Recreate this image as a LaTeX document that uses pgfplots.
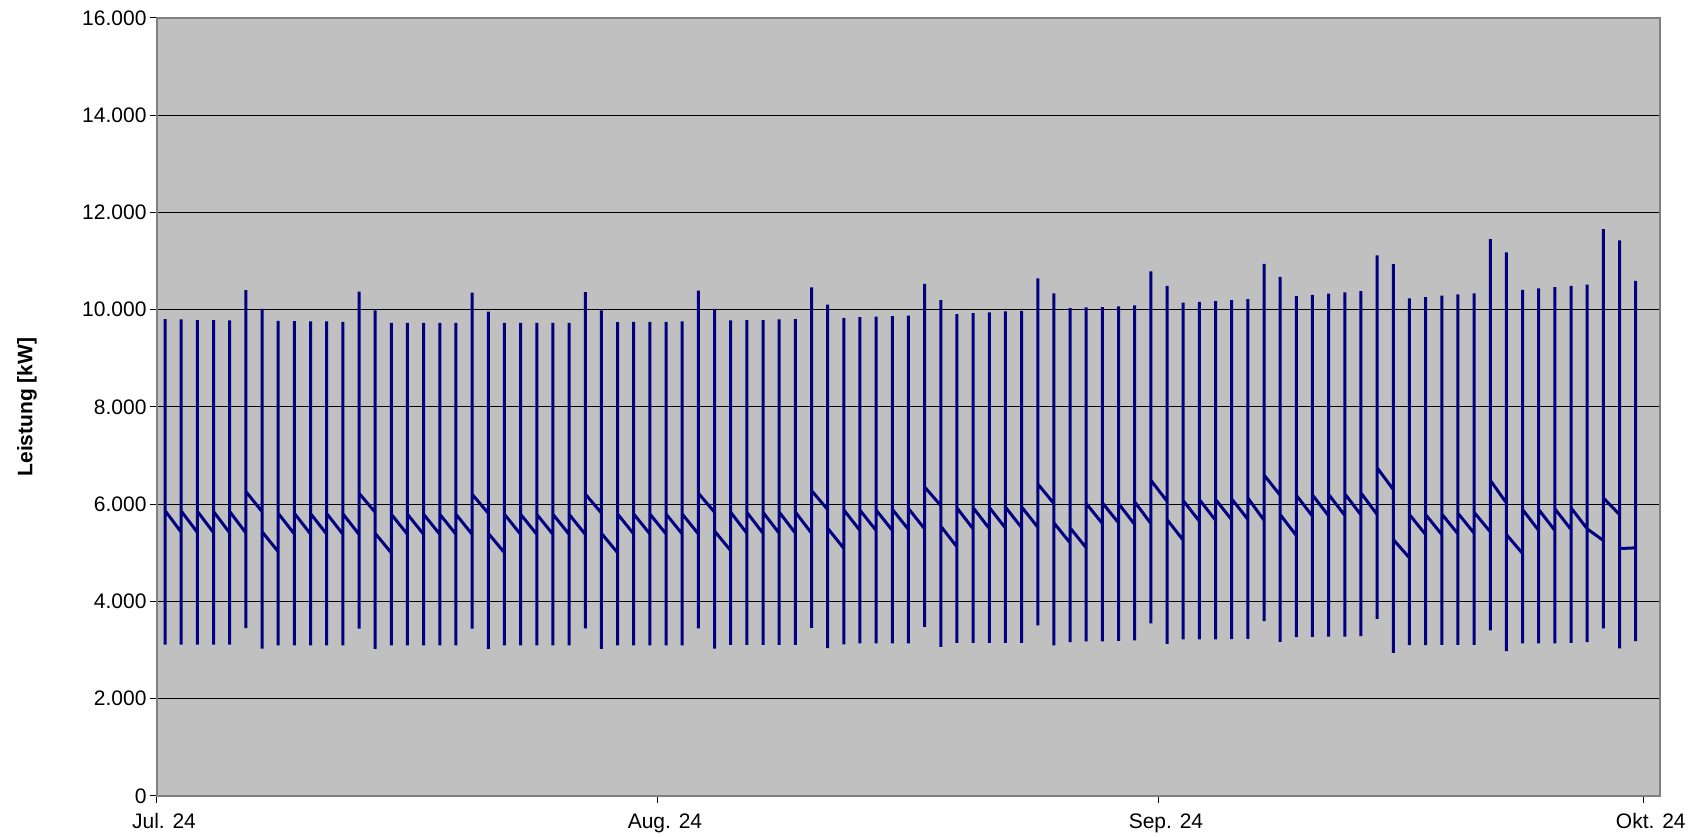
\documentclass[border=0pt]{standalone}
\usepackage{pgfplots}
\pgfplotsset{compat=1.18}
\usepackage{fontspec}
\setmainfont{Liberation Sans}
\definecolor{plotbg}{HTML}{C0C0C0}
\definecolor{navyline}{HTML}{000080}
\definecolor{frame}{HTML}{808080}
\begin{document}
\begin{tikzpicture}
\path[use as bounding box] (-157pt,-41pt) rectangle (1538pt,796pt);
\begin{axis}[
    scale only axis,
    width=1503pt, height=778pt,
    at={(0pt,0pt)}, anchor=south west,
    xmin=0, xmax=93, ymin=0, ymax=16000,
    xtick={0,31,62,92},
    xticklabels={Jul. 24,Aug. 24,Sep. 24,Okt. 24},
    ytick={0,2000,...,16000},
    yticklabels={0,2.000,4.000,6.000,8.000,10.000,12.000,14.000,16.000},
    ymajorgrids,
    grid style={black, line width=1pt},
    axis background/.style={fill=plotbg},
    axis line style={draw=frame, line width=1.5pt},
    tick style={black, line width=1pt},
    tick align=outside,
    major tick length=7pt,
    tick pos=left,
    tick label style={font=\fontsize{21}{25}\selectfont},
    xticklabel style={xshift=7pt, yshift=-7pt},
    ylabel={Leistung [kW]},
    ylabel style={at={(axis description cs:-0.0865,0.5)}, anchor=center,
        font=\fontsize{21}{25}\selectfont\bfseries},
]
% daily load profile: each day = (x, end of previous night) (x, low) (x, peak) (x, start of night)
\addplot[navyline, line width=3pt, mark=none] coordinates {
(0.5,5050) (0.5,3115) (0.5,9808) (0.5,5869)
(1.5,5423) (1.5,3115) (1.5,9800) (1.5,5860)
(2.5,5420) (2.5,3115) (2.5,9786) (2.5,5855)
(3.5,5415) (3.5,3115) (3.5,9786) (3.5,5850)
(4.5,5410) (4.5,3115) (4.5,9780) (4.5,5850)
(5.5,5410) (5.5,3450) (5.5,10405) (5.5,6261)
(6.5,5849) (6.5,3030) (6.5,10020) (6.5,5436)
(7.5,5024) (7.5,3100) (7.5,9773) (7.5,5814)
(8.5,5388) (8.5,3100) (8.5,9766) (8.5,5814)
(9.5,5388) (9.5,3100) (9.5,9760) (9.5,5810)
(10.5,5385) (10.5,3100) (10.5,9760) (10.5,5810)
(11.5,5385) (11.5,3100) (11.5,9753) (11.5,5805)
(12.5,5380) (12.5,3440) (12.5,10371) (12.5,6227)
(13.5,5835) (13.5,3025) (13.5,9986) (13.5,5402)
(14.5,5000) (14.5,3100) (14.5,9732) (14.5,5794)
(15.5,5381) (15.5,3100) (15.5,9732) (15.5,5794)
(16.5,5381) (16.5,3100) (16.5,9732) (16.5,5794)
(17.5,5381) (17.5,3100) (17.5,9732) (17.5,5794)
(18.5,5381) (18.5,3100) (18.5,9732) (18.5,5794)
(19.5,5381) (19.5,3440) (19.5,10350) (19.5,6206)
(20.5,5814) (20.5,3025) (20.5,9959) (20.5,5402)
(21.5,5003) (21.5,3100) (21.5,9732) (21.5,5794)
(22.5,5381) (22.5,3100) (22.5,9732) (22.5,5794)
(23.5,5381) (23.5,3100) (23.5,9732) (23.5,5794)
(24.5,5381) (24.5,3100) (24.5,9732) (24.5,5794)
(25.5,5381) (25.5,3100) (25.5,9732) (25.5,5794)
(26.5,5381) (26.5,3445) (26.5,10364) (26.5,6210)
(27.5,5820) (27.5,3025) (27.5,9986) (27.5,5402)
(28.5,5003) (28.5,3100) (28.5,9746) (28.5,5800)
(29.5,5388) (29.5,3100) (29.5,9753) (29.5,5800)
(30.5,5388) (30.5,3100) (30.5,9753) (30.5,5800)
(31.5,5388) (31.5,3100) (31.5,9753) (31.5,5800)
(32.5,5388) (32.5,3100) (32.5,9760) (32.5,5800)
(33.5,5388) (33.5,3445) (33.5,10392) (33.5,6227)
(34.5,5835) (34.5,3030) (34.5,10020) (34.5,5450)
(35.5,5045) (35.5,3110) (35.5,9780) (35.5,5835)
(36.5,5402) (36.5,3110) (36.5,9787) (36.5,5835)
(37.5,5402) (37.5,3110) (37.5,9787) (37.5,5835)
(38.5,5402) (38.5,3110) (38.5,9800) (38.5,5840)
(39.5,5405) (39.5,3110) (39.5,9807) (39.5,5840)
(40.5,5405) (40.5,3455) (40.5,10460) (40.5,6282)
(41.5,5890) (41.5,3040) (41.5,10103) (41.5,5505)
(42.5,5093) (42.5,3120) (42.5,9835) (42.5,5883)
(43.5,5459) (43.5,3137) (43.5,9849) (43.5,5877)
(44.5,5459) (44.5,3137) (44.5,9856) (44.5,5880)
(45.5,5462) (45.5,3137) (45.5,9870) (45.5,5895)
(46.5,5480) (46.5,3137) (46.5,9877) (46.5,5911)
(47.5,5493) (47.5,3480) (47.5,10534) (47.5,6356)
(48.5,5973) (48.5,3069) (48.5,10199) (48.5,5548)
(49.5,5123) (49.5,3151) (49.5,9911) (49.5,5925)
(50.5,5493) (50.5,3151) (50.5,9932) (50.5,5930)
(51.5,5500) (51.5,3151) (51.5,9945) (51.5,5935)
(52.5,5510) (52.5,3151) (52.5,9966) (52.5,5940)
(53.5,5520) (53.5,3151) (53.5,9979) (53.5,5945)
(54.5,5528) (54.5,3507) (54.5,10644) (54.5,6418)
(55.5,6014) (55.5,3096) (55.5,10336) (55.5,5617)
(56.5,5206) (56.5,3164) (56.5,10034) (56.5,5514)
(57.5,5103) (57.5,3178) (57.5,10048) (57.5,6014)
(58.5,5603) (58.5,3178) (58.5,10055) (58.5,6028)
(59.5,5617) (59.5,3190) (59.5,10068) (59.5,6014)
(60.5,5582) (60.5,3199) (60.5,10089) (60.5,6048)
(61.5,5603) (61.5,3548) (61.5,10788) (61.5,6493)
(62.5,6062) (62.5,3130) (62.5,10493) (62.5,5685)
(63.5,5260) (63.5,3220) (63.5,10144) (63.5,6075)
(64.5,5651) (64.5,3220) (64.5,10164) (64.5,6096)
(65.5,5671) (65.5,3220) (65.5,10178) (65.5,6100)
(66.5,5680) (66.5,3225) (66.5,10199) (66.5,6110)
(67.5,5690) (67.5,3233) (67.5,10219) (67.5,6130)
(68.5,5671) (68.5,3596) (68.5,10945) (68.5,6603)
(69.5,6185) (69.5,3171) (69.5,10678) (69.5,5788)
(70.5,5356) (70.5,3267) (70.5,10281) (70.5,6185)
(71.5,5754) (71.5,3270) (71.5,10308) (71.5,6190)
(72.5,5760) (72.5,3275) (72.5,10329) (72.5,6200)
(73.5,5770) (73.5,3280) (73.5,10356) (73.5,6215)
(74.5,5780) (74.5,3288) (74.5,10384) (74.5,6233)
(75.5,5788) (75.5,3644) (75.5,11116) (75.5,6750)
(76.5,6302) (76.5,2945) (76.5,10938) (76.5,5274)
(77.5,4897) (77.5,3103) (77.5,10233) (77.5,5788)
(78.5,5377) (78.5,3105) (78.5,10260) (78.5,5788)
(79.5,5377) (79.5,3108) (79.5,10288) (79.5,5800)
(80.5,5390) (80.5,3110) (80.5,10315) (80.5,5815)
(81.5,5405) (81.5,3110) (81.5,10336) (81.5,5836)
(82.5,5432) (82.5,3404) (82.5,11452) (82.5,6493)
(83.5,6027) (83.5,2980) (83.5,11178) (83.5,5377)
(84.5,4986) (84.5,3137) (84.5,10411) (84.5,5891)
(85.5,5459) (85.5,3137) (85.5,10438) (85.5,5891)
(86.5,5459) (86.5,3140) (86.5,10466) (86.5,5905)
(87.5,5480) (87.5,3150) (87.5,10493) (87.5,5925)
(88.5,5493) (88.5,3164) (88.5,10514) (88.5,5493)
(89.5,5254) (89.5,3445) (89.5,11658) (89.5,6130)
(90.5,5788) (90.5,3034) (90.5,11425) (90.5,5089)
(91.5,5103) (91.5,3185) (91.5,10596) (91.5,5600)
};
\end{axis}
\end{tikzpicture}
\end{document}
